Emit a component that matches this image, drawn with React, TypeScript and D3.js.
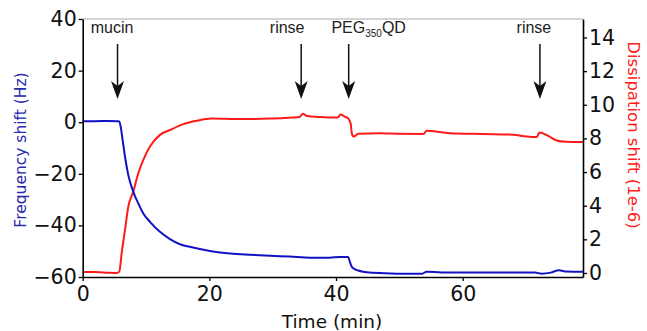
import { useEffect, useRef } from "react";
import * as d3 from "d3";

// frequency shift (Hz)
const freqTime = [0, 2, 4, 5.5, 5.78, 6.0, 6.31, 6.68, 7.2, 7.99, 8.78, 9.57, 10.62, 12.2, 13.78, 15.36, 16.9, 20.1, 23.3, 26.4, 29.6, 32.7, 35.9, 39.0, 40.6, 41.9, 42.2, 42.5, 43.0, 43.5, 44.3, 45.9, 49.6, 53.6, 54.3, 58.0, 60.6, 66.2, 71.4, 72.5, 73.9, 75.2, 76.4, 79];
const freqValue = [0.4, 0.4, 0.5, 0.4, 0.3, -1.8, -7.0, -13.4, -20.5, -27.0, -31.5, -35.4, -38.6, -42.5, -45.3, -47.3, -48.3, -49.9, -50.9, -51.4, -51.8, -52.1, -52.5, -52.5, -52.2, -52.2, -54.2, -56.1, -57.0, -57.5, -58.0, -58.4, -58.7, -58.7, -58.0, -58.3, -58.3, -58.3, -58.3, -58.7, -58.3, -57.4, -57.9, -58.0];

// dissipation shift (1e-6)
const dissTime = [0, 2, 4, 5.37, 5.78, 6.15, 6.68, 7.2, 7.99, 8.78, 9.57, 10.62, 12.2, 13.78, 15.9, 18.0, 20.4, 24.3, 29.6, 34.2, 34.8, 35.3, 37.5, 40.3, 40.7, 41.4, 41.9, 42.3, 42.5, 42.8, 43.5, 46.9, 50.1, 53.8, 54.3, 58.0, 63.2, 68.0, 70.1, 71.7, 72.1, 73.5, 74.8, 76.4, 79];
const dissValue = [0.05, 0.05, 0.02, 0.0, 0.08, 1.17, 2.56, 3.95, 4.84, 5.93, 6.73, 7.52, 8.21, 8.5, 8.85, 9.05, 9.18, 9.15, 9.18, 9.27, 9.46, 9.35, 9.27, 9.24, 9.42, 9.3, 9.2, 8.9, 8.3, 8.11, 8.27, 8.31, 8.27, 8.26, 8.45, 8.31, 8.26, 8.22, 8.11, 8.08, 8.35, 8.15, 7.88, 7.8, 7.78];

const xTicks = [0, 20, 40, 60];
const freqTicks = [40, 20, 0, -20, -40, -60];
const dissTicks = [0, 2, 4, 6, 8, 10, 12, 14];

const eventTimes = [5.5, 34.5, 42.0, 72.2];
const eventLabels = ["mucin", "rinse", "PEG|350|QD", "rinse"];

export default function App() {
  const svgRef = useRef<SVGSVGElement | null>(null);

  useEffect(() => {
    const width = 647;
    const height = 331;
    const left = 82.7;
    const right = 583;
    const top = 19;
    const bottom = 277;

    const svg = d3.select(svgRef.current).attr("width", width).attr("height", height);
    svg.selectAll("*").remove();

    const x = d3.scaleLinear().domain([0, 79]).range([left, right]);
    const yF = d3.scaleLinear().domain([-60, 40]).range([bottom, top]);
    const yD = d3.scaleLinear().domain([-0.24, 15.1]).range([bottom, top]);

    // top frame line
    svg
      .append("line")
      .attr("x1", left)
      .attr("x2", right)
      .attr("y1", top)
      .attr("y2", top)
      .attr("stroke", "#aaa")
      .attr("stroke-width", 1);

    const lineF = d3
      .line<number>()
      .x((_, i) => x(freqTime[i]))
      .y((d) => yF(d))
      .curve(d3.curveMonotoneX);
    const lineD = d3
      .line<number>()
      .x((_, i) => x(dissTime[i]))
      .y((d) => yD(d))
      .curve(d3.curveMonotoneX);

    svg
      .append("path")
      .attr("d", lineD(dissValue))
      .attr("fill", "none")
      .attr("stroke", "#ff1a1a")
      .attr("stroke-width", 2);
    svg
      .append("path")
      .attr("d", lineF(freqValue))
      .attr("fill", "none")
      .attr("stroke", "#1212c4")
      .attr("stroke-width", 2);

    const styleAxis = (g: d3.Selection<SVGGElement, unknown, null, undefined>) => {
      g.selectAll("path").attr("stroke", "#000").attr("stroke-width", 1.6);
      g.selectAll("line").attr("stroke", "#000").attr("stroke-width", 1.3);
      g.selectAll("text")
        .attr("fill", "#111")
        .style("font-family", "DejaVu Sans")
        .style("font-size", "20.5px");
    };

    svg
      .append("g")
      .attr("transform", `translate(0,${bottom})`)
      .call(d3.axisBottom(x).tickValues(xTicks).tickSize(4).tickSizeOuter(0).tickPadding(5))
      .call(styleAxis);
    svg
      .append("g")
      .attr("transform", `translate(${left},0)`)
      .call(d3.axisLeft(yF).tickValues(freqTicks).tickSize(4).tickSizeOuter(0).tickPadding(2))
      .call(styleAxis);
    svg
      .append("g")
      .attr("transform", `translate(${right},0)`)
      .call(d3.axisRight(yD).tickValues(dissTicks).tickSize(4).tickSizeOuter(0).tickPadding(2))
      .call(styleAxis);

    svg
      .append("text")
      .attr("x", 332)
      .attr("y", 328)
      .attr("text-anchor", "middle")
      .style("font-family", "DejaVu Sans")
      .style("font-size", "18.5px")
      .attr("fill", "#111")
      .text("Time (min)");

    svg
      .append("text")
      .attr("transform", `translate(26,150) rotate(-90)`)
      .attr("text-anchor", "middle")
      .style("font-family", "DejaVu Sans")
      .style("font-size", "15.5px")
      .attr("fill", "#2828b0")
      .text("Frequency shift (Hz)");

    svg
      .append("text")
      .attr("transform", `translate(628,135) rotate(90)`)
      .attr("text-anchor", "middle")
      .style("font-family", "DejaVu Sans")
      .style("font-size", "16.5px")
      .attr("fill", "#ff2020")
      .text("Dissipation shift (1e-6)");

    // event arrows and labels
    const labelDx = [-5.5, -14, 20, -6];
    eventTimes.forEach((t, i) => {
      const ax = x(t);
      const g = svg.append("g");
      g.append("line")
        .attr("x1", ax)
        .attr("x2", ax)
        .attr("y1", 44)
        .attr("y2", 88)
        .attr("stroke", "#111")
        .attr("stroke-width", 1.5);
      g.append("path")
        .attr("d", `M${ax},99 L${ax - 6.5},81 L${ax},86 L${ax + 6.5},81 Z`)
        .attr("fill", "#111");
      const parts = eventLabels[i].split("|");
      const txt = g
        .append("text")
        .attr("x", ax + labelDx[i])
        .attr("y", 33)
        .attr("text-anchor", "middle")
        .style("font-family", "Liberation Sans")
        .style("font-size", "16px")
        .attr("fill", "#222");
      if (parts.length === 1) {
        txt.text(parts[0]);
      } else {
        txt.append("tspan").text(parts[0]);
        txt.append("tspan").attr("dy", 4).style("font-size", "10px").text(parts[1]);
        txt.append("tspan").attr("dy", -4).text(parts[2]);
      }
    });
  }, []);

  return <svg ref={svgRef} style={{ position: "absolute", left: 0, top: 0 }}></svg>;
}
